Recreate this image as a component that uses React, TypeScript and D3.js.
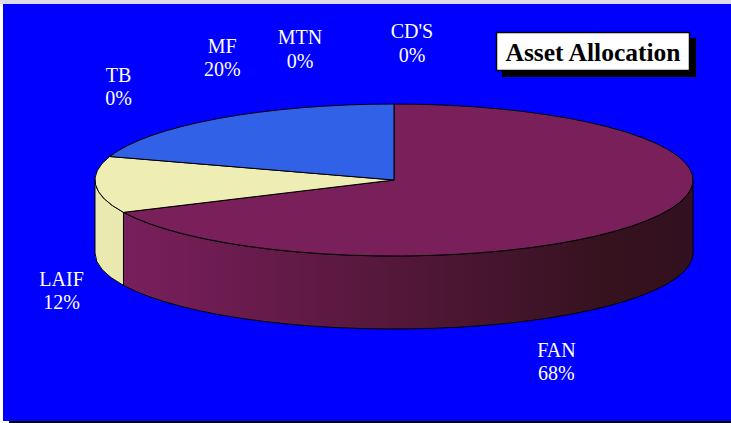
import React, { useRef, useEffect } from 'react';
import { select, pie } from 'd3';

const categories = ['FAN', 'LAIF', 'TB', 'MF', 'MTN', "CD'S"];
const percents = [68, 12, 0, 20, 0, 0];
const title = 'Asset Allocation';

const width = 731;
const height = 423;

// pie geometry (3d ellipse)
const cx = 394;
const cy = 180;
const rx = 299;
const ry = 76;
const depth = 73;

const topColors = {
    FAN: '#791f5a',
    LAIF: '#eeeeb4',
    TB: '#eeeeb4',
    MF: '#3061e6',
    MTN: '#3061e6',
    "CD'S": '#3061e6'
};

const wallStops = {
    FAN: [['0%', '#7a2060'], ['15%', '#721d55'], ['85%', '#36121f'], ['100%', '#33101f']],
    LAIF: [['0%', '#eaeab0'], ['100%', '#d8d89c']]
};

// label nudges from the slice mid point on the rim
const labelNudge = {
    FAN: [-90, 63],
    LAIF: [-34, 28],
    TB: [9, -75],
    MF: [4, -66],
    MTN: [-94, -60],
    "CD'S": [18, -66]
};

const pt = (a, dy = 0) => [cx + rx * Math.sin(a), cy - ry * Math.cos(a) + dy];
const fmt = p => `${p[0].toFixed(2)},${p[1].toFixed(2)}`;

export default function App() {
    const svgRef = useRef();

    useEffect(() => {
        const svg = select(svgRef.current);
        svg.selectAll('*').remove();

        // frame
        svg.append('rect').attr('width', width).attr('height', height).attr('fill', '#ffffff');
        svg.append('rect').attr('x', 0).attr('y', 0).attr('width', width).attr('height', 4).attr('fill', '#dcdcec');
        svg.append('rect').attr('x', 3).attr('y', 4).attr('width', width - 3).attr('height', 417).attr('fill', '#0000ff');
        svg.append('rect').attr('x', 9).attr('y', 421).attr('width', width - 9).attr('height', 2).attr('fill', '#000');

        const defs = svg.append('defs');
        Object.keys(wallStops).forEach(k => {
            const lg = defs.append('linearGradient')
                .attr('id', 'wall-' + k.replace(/\W/g, ''))
                .attr('gradientUnits', 'userSpaceOnUse')
                .attr('x1', cx - rx).attr('x2', cx + rx)
                .attr('y1', 0).attr('y2', 0);
            wallStops[k].forEach(s => {
                lg.append('stop').attr('offset', s[0]).style('stop-color', s[1]);
            });
        });

        const slices = pie()
            .sort(null)
            .value(d => d)
            .startAngle(0)
            .endAngle(2 * Math.PI)(percents);

        // outer walls (front half only)
        slices.forEach((s, i) => {
            const a0 = Math.max(s.startAngle, Math.PI / 2);
            const a1 = Math.min(s.endAngle, 3 * Math.PI / 2);
            if (a1 - a0 < 1e-6) return;
            const p0 = pt(a0), p1 = pt(a1);
            const q0 = pt(a0, depth), q1 = pt(a1, depth);
            const k = categories[i];
            svg.append('path')
                .attr('d', `M${fmt(p0)}A${rx},${ry} 0 0 1 ${fmt(p1)}L${fmt(q1)}A${rx},${ry} 0 0 0 ${fmt(q0)}Z`)
                .attr('fill', wallStops[k] ? `url(#wall-${k.replace(/\W/g, '')})` : topColors[k])
                .attr('stroke', '#000')
                .attr('stroke-width', 1)
                .attr('stroke-linejoin', 'round');
        });

        // top faces
        slices.forEach((s, i) => {
            if (s.endAngle - s.startAngle < 1e-6) return;
            const large = s.endAngle - s.startAngle > Math.PI ? 1 : 0;
            svg.append('path')
                .attr('d', `M${cx},${cy}L${fmt(pt(s.startAngle))}A${rx},${ry} 0 ${large} 1 ${fmt(pt(s.endAngle))}Z`)
                .attr('fill', topColors[categories[i]])
                .attr('stroke', '#000')
                .attr('stroke-width', 1)
                .attr('stroke-linejoin', 'round');
        });

        // labels
        slices.forEach((s, i) => {
            const k = categories[i];
            const mid = (s.startAngle + s.endAngle) / 2;
            const front = Math.cos(mid) < 0;
            const p = pt(mid, front ? depth : 0);
            const [dx, dy] = labelNudge[k];
            const t = svg.append('text')
                .attr('x', p[0] + dx)
                .attr('y', p[1] + dy)
                .attr('text-anchor', 'middle')
                .attr('fill', '#ffffff')
                .style('font-family', '"Liberation Serif", "Times New Roman", serif')
                .style('font-size', '20px');
            t.append('tspan').attr('x', p[0] + dx).text(k);
            t.append('tspan').attr('x', p[0] + dx).attr('dy', 23.5).text(s.data + '%');
        });

        // title box
        svg.append('rect')
            .attr('x', 502).attr('y', 38).attr('width', 194).attr('height', 39)
            .attr('fill', '#000');
        svg.append('rect')
            .attr('x', 496.5).attr('y', 32.5).attr('width', 193).attr('height', 38)
            .attr('fill', '#fff')
            .attr('stroke', '#000')
            .attr('stroke-width', 1.5);
        svg.append('text')
            .attr('x', 593).attr('y', 61)
            .attr('text-anchor', 'middle')
            .attr('fill', '#000')
            .style('font-family', '"Liberation Serif", "Times New Roman", serif')
            .style('font-weight', 'bold')
            .style('font-size', '25.5px')
            .text(title);
    }, []);

    return (<>
        <svg width={width} height={height} ref={svgRef}
            style={{ position: 'absolute', left: 0, top: 0, display: 'block' }}></svg>
    </>);
};
